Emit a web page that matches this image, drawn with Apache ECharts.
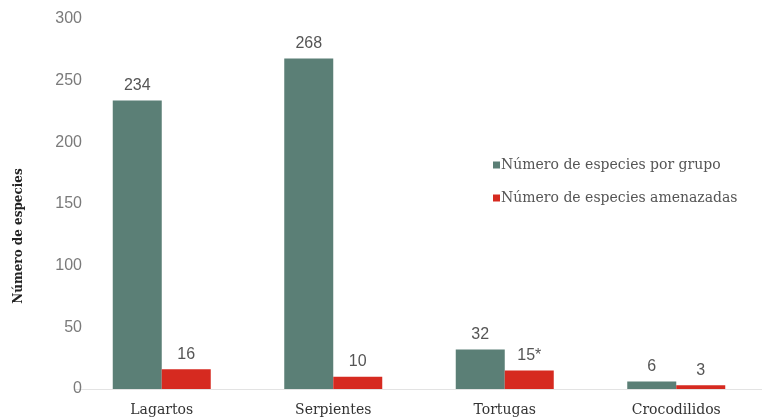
<!DOCTYPE html>
<html>
<head>
<meta charset="utf-8">
<script src="https://cdn.jsdelivr.net/npm/echarts@6/dist/echarts.min.js"></script>
<style>html,body{margin:0;padding:0;background:#fff}#c{width:762px;height:420px}</style>
</head>
<body>
<div id="c"></div>
<script>
const categories = ["Lagartos", "Serpientes", "Tortugas", "Crocodilidos"];
const speciesPerGroup = [234, 268, 32, 6];
const threatenedSpecies = [16, 10, 15, 3];
const threatenedLabels = ["16", "10", "15*", "3"];
const seriesNames = ["Número de especies por grupo", "Número de especies amenazadas"];
const yTicks = [0, 50, 100, 150, 200, 250, 300];

const chart = echarts.init(document.getElementById('c'));
chart.setOption({
  animation: false,
  backgroundColor: '#ffffff',
  grid: { left: 76, top: 19, width: 690, height: 370, containLabel: false },
  legend: {
    orient: 'vertical', left: 488, top: 153, itemWidth: 7, itemHeight: 7, itemGap: 19,
    icon: 'rect',
    textStyle: { fontFamily: 'DejaVu Serif', fontSize: 14, color: '#555', padding: [0, 0, 0, -4] },
    data: seriesNames
  },
  xAxis: {
    type: 'category', data: categories,
    axisLine: { show: true, lineStyle: { color: '#e3e3e3', width: 1 } },
    axisTick: { show: false },
    axisLabel: { margin: 14, fontFamily: 'DejaVu Serif', fontSize: 14, color: '#333' }
  },
  yAxis: {
    type: 'value', min: 0, max: 300, interval: 50,
    offset: -6,
    name: 'Número de especies', nameLocation: 'middle', nameGap: 57, nameRotate: 90,
    nameTextStyle: { fontFamily: 'DejaVu Serif', fontWeight: 'bold', fontSize: 12, color: '#222', padding: [0, 64, 0, 0] },
    axisLine: { show: false }, axisTick: { show: false }, splitLine: { show: false },
    axisLabel: { margin: 0, fontFamily: 'Liberation Sans', fontSize: 16, color: '#7a7a7a',
      formatter: v => yTicks.includes(v) ? String(v) : '' }
  },
  series: [
    {
      name: seriesNames[0], type: 'bar', data: speciesPerGroup, barWidth: 49, barGap: '0%',
      itemStyle: { color: '#5b7f76' },
      label: { show: true, position: 'top', distance: 7, fontFamily: 'Liberation Sans', fontSize: 16, color: '#555' }
    },
    {
      name: seriesNames[1], type: 'bar', data: threatenedSpecies, barWidth: 49,
      itemStyle: { color: '#d62a20' },
      label: { show: true, position: 'top', distance: 7, fontFamily: 'Liberation Sans', fontSize: 16, color: '#555',
        formatter: p => threatenedLabels[p.dataIndex] }
    }
  ]
});
</script>
</body>
</html>
